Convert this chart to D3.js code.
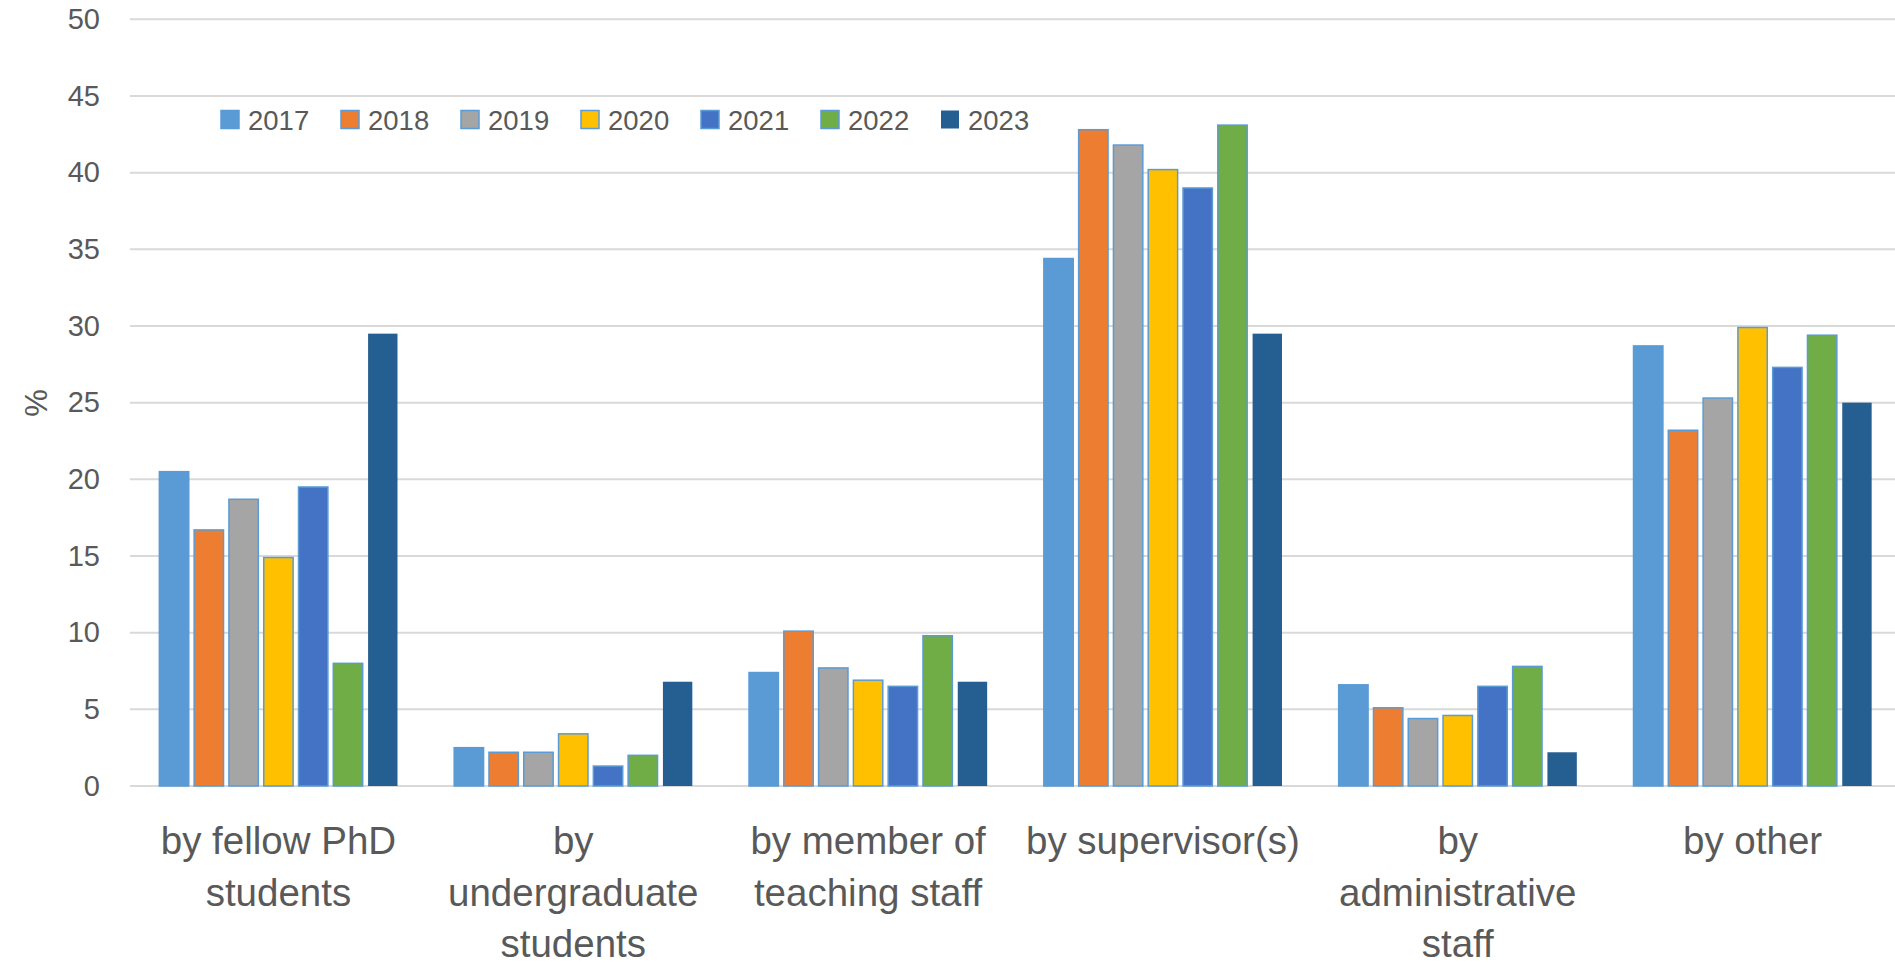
<!DOCTYPE html>
<html>
<head>
<meta charset="utf-8">
<script src="https://cdn.jsdelivr.net/npm/d3@7"></script>
<style>
  html, body { margin: 0; padding: 0; background: #ffffff; }
  svg { display: block; font-family: "Liberation Sans", Arial, sans-serif; }
</style>
</head>
<body>
<svg id="chart" width="1895" height="966"></svg>
<script>
// ---- data ----
const categories = [
  "by fellow PhD students",
  "by undergraduate students",
  "by member of teaching staff",
  "by supervisor(s)",
  "by administrative staff",
  "by other"
];
const categoryLines = [
  ["by fellow PhD", "students"],
  ["by", "undergraduate", "students"],
  ["by member of", "teaching staff"],
  ["by supervisor(s)"],
  ["by", "administrative", "staff"],
  ["by other"]
];
const years = ["2017", "2018", "2019", "2020", "2021", "2022", "2023"];
const v2017 = [20.5, 2.5, 7.4, 34.4, 6.6, 28.7];
const v2018 = [16.7, 2.2, 10.1, 42.8, 5.1, 23.2];
const v2019 = [18.7, 2.2, 7.7, 41.8, 4.4, 25.3];
const v2020 = [14.9, 3.4, 6.9, 40.2, 4.6, 29.9];
const v2021 = [19.5, 1.3, 6.5, 39.0, 6.5, 27.3];
const v2022 = [8.0, 2.0, 9.8, 43.1, 7.8, 29.4];
const v2023 = [29.5, 6.8, 6.8, 29.5, 2.2, 25.0];
const yTicks = [0, 5, 10, 15, 20, 25, 30, 35, 40, 45, 50];
const yLabel = "%";

const seriesValues = [v2017, v2018, v2019, v2020, v2021, v2022, v2023];
const colors = ["#5B9BD5", "#ED7D31", "#A5A5A5", "#FFC000", "#4472C4", "#70AD47", "#255E91"];
const strokes = ["#5B9BD5", "#5B9BD5", "#5B9BD5", "#5B9BD5", "#5B9BD5", "#5B9BD5", "none"];

const rows = [];
categories.forEach((c, ci) => {
  years.forEach((yr, si) => {
    rows.push({ cat: c, year: yr, si: si, value: seriesValues[si][ci] });
  });
});

// ---- layout ----
const svg = d3.select("#chart");
const textColor = "#595959";

const y = d3.scaleLinear().domain([0, 50]).range([786, 19.3]);
const x0 = d3.scaleBand().domain(categories).range([131, 1900])
  .paddingInner(0.174).paddingOuter(0.087);
const x1 = d3.scaleBand().domain(years).range([0, x0.bandwidth()])
  .paddingInner(0.155).paddingOuter(0.0775);

// gridlines
svg.append("g").selectAll("line").data(yTicks).join("line")
  .attr("x1", 130).attr("x2", 1895)
  .attr("y1", d => y(d)).attr("y2", d => y(d))
  .attr("stroke", "#D9D9D9").attr("stroke-width", 2);

// y axis labels
const yAxis = d3.axisLeft(y).tickValues(yTicks).tickSize(0).tickPadding(0);
const yg = svg.append("g").attr("transform", "translate(100,0)").call(yAxis);
yg.select(".domain").remove();
yg.selectAll("text")
  .attr("fill", textColor)
  .style("font-size", "29px")
  .style("font-family", "'Liberation Sans', Arial, sans-serif");

// y title
svg.append("text")
  .attr("transform", "translate(47,403) rotate(-90)")
  .attr("text-anchor", "middle")
  .attr("fill", textColor)
  .style("font-size", "31px")
  .text(yLabel);

// bars
svg.append("g").selectAll("rect").data(rows).join("rect")
  .attr("x", d => x0(d.cat) + x1(d.year))
  .attr("width", x1.bandwidth())
  .attr("y", d => y(d.value))
  .attr("height", d => y(0) - y(d.value))
  .attr("fill", d => colors[d.si])
  .attr("stroke", d => strokes[d.si])
  .attr("stroke-width", 1.5);

// category labels
const lineYs = [854, 906, 957];
const cg = svg.append("g");
categories.forEach((c, ci) => {
  const cx = x0(c) + x0.bandwidth() / 2;
  categoryLines[ci].forEach((ln, li) => {
    cg.append("text")
      .attr("x", cx).attr("y", lineYs[li])
      .attr("text-anchor", "middle")
      .attr("fill", textColor)
      .style("font-size", "38.5px")
      .text(ln);
  });
});

// legend
const lg = svg.append("g");
years.forEach((yr, i) => {
  const lx = 221 + i * 120;
  lg.append("rect")
    .attr("x", lx).attr("y", 110.5).attr("width", 18).attr("height", 18)
    .attr("fill", colors[i])
    .attr("stroke", strokes[i]).attr("stroke-width", 1.5);
  lg.append("text")
    .attr("x", lx + 27).attr("y", 129.5)
    .attr("fill", textColor)
    .style("font-size", "27.5px")
    .text(yr);
});
</script>
</body>
</html>
